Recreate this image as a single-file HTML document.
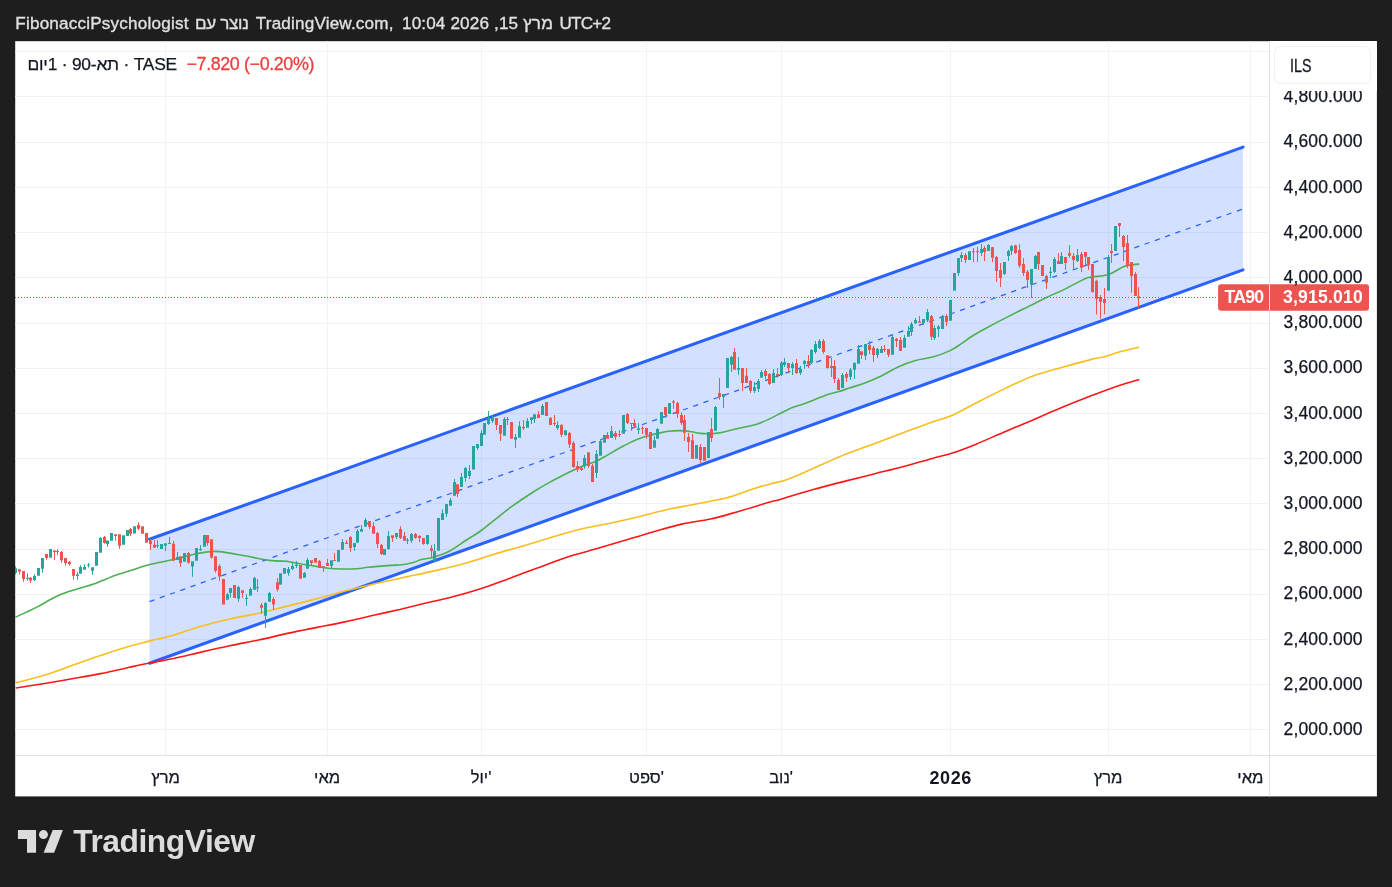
<!DOCTYPE html>
<html lang="he"><head><meta charset="utf-8"><title>TA90 chart</title>
<style>
html,body{margin:0;padding:0;background:#1e1e1e;}
body{width:1392px;height:887px;position:relative;overflow:hidden;font-family:"Liberation Sans","DejaVu Sans",sans-serif;}
#chart{position:absolute;left:0;top:0;}
.t{position:absolute;white-space:nowrap;line-height:1;}
#title{left:15.3px;top:14.9px;font-size:17.1px;color:#e0e0e0;direction:ltr;-webkit-text-stroke:0.35px #e0e0e0;}
#title span{position:absolute;top:0;white-space:pre;}
#legend{left:27.5px;top:55.6px;font-size:17.4px;color:#131722;direction:ltr;letter-spacing:-0.22px;}
#legend .chg{color:#ee3e3c;margin-left:9.6px;font-size:17.9px;letter-spacing:-0.39px;-webkit-text-stroke:0.3px #ee3e3c;}
#legend span:first-child{-webkit-text-stroke:0.25px #131722;}
.p{position:absolute;left:1283.5px;font-size:17.5px;color:#131722;line-height:1;white-space:nowrap;letter-spacing:0.15px;-webkit-text-stroke:0.25px #131722;}
.m{position:absolute;top:769.5px;font-size:16.6px;color:#131722;line-height:1;white-space:nowrap;transform:translateX(-50%);-webkit-text-stroke:0.25px #131722;}
#ilscover{position:absolute;left:1270px;top:41px;width:107px;height:50px;background:#fff;}
#ilsbox{position:absolute;left:4.4px;top:4.8px;width:94.6px;height:36.6px;border:1.8px solid #eff0f1;border-radius:6.5px;box-sizing:content-box;}
#ils{left:1289.6px;top:58.2px;font-size:17.9px;color:#131722;-webkit-text-stroke:0.3px #131722;transform:scaleX(0.8);transform-origin:0 50%;}
#ta{left:1224.4px;top:289.1px;font-size:17.7px;color:#fff;font-weight:bold;letter-spacing:-0.75px}
#last{left:1283px;top:289.3px;font-size:17.6px;color:#fff;font-weight:bold;letter-spacing:0.2px;}
#brand{left:73.2px;top:825.8px;font-size:31.8px;font-weight:bold;color:#dcdcdc;letter-spacing:-0.46px;}
</style></head><body>
<svg id="chart" width="1392" height="887" viewBox="0 0 1392 887">
<rect x="15.2" y="41.2" width="1361.7" height="755.2" fill="#fff"/>
<clipPath id="pane"><rect x="15" y="41" width="1254.5" height="714"/></clipPath>
<g clip-path="url(#pane)">
<path d="M15 51.5H1269.5M15 96.5H1269.5M15 142.5H1269.5M15 187.5H1269.5M15 232.5H1269.5M15 277.5H1269.5M15 323.5H1269.5M15 368.5H1269.5M15 413.5H1269.5M15 458.5H1269.5M15 503.5H1269.5M15 549.5H1269.5M15 594.5H1269.5M15 639.5H1269.5M15 684.5H1269.5M15 729.5H1269.5M165.5 41V755M327.5 41V755M481.5 41V755M646.5 41V755M781.5 41V755M950.5 41V755M1108.5 41V755M1250.5 41V755" stroke="#f1f3f3" stroke-width="1" fill="none"/>
<polygon points="149.5,539.3 1243.0,147.1 1243.0,269.9 149.5,663.3" fill="#2962ff" fill-opacity="0.2"/>
<path d="M149.5 601.6L1243.0 208.9" stroke="#2962ff" stroke-width="1.25" stroke-dasharray="5.2 5.7" fill="none"/>
<path d="M149.5 539.3L1243.0 147.1M149.5 663.3L1243.0 269.9" stroke="#2962ff" stroke-width="3.05" stroke-linecap="round" fill="none"/>
<path d="M15.8 688.0 C20.4 687.3 33.8 685.2 43.1 683.7 C52.4 682.2 62.2 680.5 71.8 678.8 C81.4 677.1 91.0 675.5 100.6 673.6 C110.2 671.7 121.2 669.1 129.3 667.3 C137.4 665.5 142.2 664.4 149.4 663.0 C156.6 661.6 163.8 660.5 172.4 658.7 C181.0 656.9 191.5 654.3 201.1 652.1 C210.7 649.9 220.3 647.7 229.9 645.7 C239.5 643.7 249.0 642.0 258.6 640.0 C268.2 638.0 277.8 635.5 287.4 633.4 C297.0 631.3 306.5 629.5 316.1 627.6 C325.7 625.7 335.2 624.0 344.8 621.9 C354.4 619.8 364.9 617.3 373.6 615.3 C382.3 613.3 388.9 611.9 397.2 610.0 C405.4 608.1 414.0 605.9 423.1 603.7 C432.2 601.6 442.2 599.6 451.8 597.1 C461.4 594.6 471.0 591.9 480.6 588.8 C490.2 585.7 499.7 581.9 509.3 578.4 C518.9 574.9 528.4 571.3 538.0 567.8 C547.6 564.3 557.2 560.3 566.8 557.2 C576.4 554.1 585.9 551.9 595.5 549.1 C605.1 546.3 614.7 543.4 624.3 540.5 C633.9 537.6 643.4 534.6 653.0 531.9 C662.6 529.2 672.1 526.2 681.7 524.1 C691.3 522.0 700.9 521.1 710.5 519.0 C720.1 516.9 729.6 513.9 739.2 511.2 C748.8 508.5 761.1 504.6 767.9 502.6 C774.7 500.6 772.5 501.6 780.0 499.4 C787.5 497.2 802.2 492.6 813.2 489.5 C824.2 486.4 835.9 483.5 846.2 480.9 C856.5 478.3 865.3 476.1 874.9 473.7 C884.5 471.3 894.1 469.1 903.7 466.5 C913.3 463.9 924.3 460.6 932.4 458.4 C940.5 456.1 945.3 455.3 952.5 453.0 C959.7 450.7 966.9 447.9 975.5 444.4 C984.1 440.9 994.7 436.1 1004.3 432.0 C1013.9 427.9 1023.4 424.0 1033.0 419.9 C1042.6 415.8 1052.1 411.6 1061.7 407.6 C1071.3 403.6 1080.9 399.8 1090.5 396.1 C1100.1 392.4 1111.1 388.3 1119.2 385.5 C1127.3 382.7 1136.0 380.4 1139.3 379.4" stroke="#f91717" stroke-width="1.6" fill="none" stroke-linejoin="round"/>
<path d="M15.8 682.8 C20.4 681.6 33.8 678.5 43.1 675.6 C52.4 672.7 62.2 669.0 71.8 665.6 C81.4 662.2 91.0 658.7 100.6 655.5 C110.2 652.3 121.2 648.7 129.3 646.3 C137.4 643.9 142.2 642.9 149.4 641.1 C156.6 639.3 163.8 637.9 172.4 635.4 C181.0 632.9 191.5 628.9 201.1 626.2 C210.7 623.5 220.3 621.1 229.9 619.0 C239.5 616.9 249.0 615.4 258.6 613.3 C268.2 611.1 277.8 608.5 287.4 606.1 C297.0 603.7 306.5 601.4 316.1 598.9 C325.7 596.4 335.2 593.6 344.8 591.1 C354.4 588.6 366.1 585.8 373.6 584.0 C381.1 582.2 384.1 581.8 390.0 580.5 C395.9 579.2 400.8 578.1 408.7 576.4 C416.6 574.7 427.9 572.4 437.5 570.1 C447.1 567.9 456.6 565.6 466.2 562.9 C475.8 560.2 485.3 556.9 494.9 554.0 C504.5 551.1 514.1 548.5 523.7 545.7 C533.3 542.9 542.8 539.9 552.4 537.1 C562.0 534.3 571.5 531.3 581.1 529.0 C590.7 526.7 600.3 525.3 609.9 523.3 C619.5 521.2 629.0 519.0 638.6 516.7 C648.2 514.4 657.8 511.6 667.4 509.5 C677.0 507.4 686.5 505.9 696.1 504.0 C705.7 502.1 715.2 500.8 724.8 498.3 C734.4 495.8 746.1 491.2 753.6 488.8 C761.1 486.4 764.1 485.6 770.0 484.0 C775.9 482.4 780.8 481.8 788.7 478.9 C796.6 476.0 807.9 470.6 817.5 466.5 C827.1 462.4 836.6 457.9 846.2 454.1 C855.8 450.3 865.3 447.1 874.9 443.5 C884.5 439.9 894.1 436.2 903.7 432.6 C913.3 429.0 924.3 424.9 932.4 422.0 C940.5 419.1 945.3 418.4 952.5 415.3 C959.7 412.2 966.9 407.7 975.5 403.3 C984.1 398.9 994.7 393.4 1004.3 388.9 C1013.9 384.3 1023.4 379.6 1033.0 376.0 C1042.6 372.4 1052.1 370.1 1061.7 367.4 C1071.3 364.7 1083.3 361.4 1090.5 359.6 C1097.7 357.8 1100.0 357.9 1104.8 356.7 C1109.6 355.4 1113.5 353.7 1119.2 352.1 C1125.0 350.5 1136.0 348.0 1139.3 347.2" stroke="#f8be1e" stroke-width="1.6" fill="none" stroke-linejoin="round"/>
<path d="M15.4 617.2 C17.3 616.3 23.1 613.7 26.9 611.9 C30.7 610.1 34.4 608.4 38.2 606.4 C42.0 604.4 45.8 602.0 49.5 600.0 C53.2 598.0 57.5 596.0 60.7 594.6 C63.9 593.2 65.4 592.7 68.6 591.6 C71.8 590.5 75.6 589.5 79.9 588.2 C84.2 586.9 90.3 585.2 94.6 583.7 C98.9 582.2 102.0 580.7 105.8 579.2 C109.5 577.7 112.4 576.3 117.1 574.7 C121.8 573.1 128.5 571.1 134.0 569.4 C139.5 567.7 143.4 566.1 150.0 564.5 C156.6 562.9 165.8 561.3 173.5 559.5 C181.2 557.7 189.3 555.1 196.4 553.7 C203.5 552.4 209.3 551.3 215.9 551.4 C222.5 551.5 230.0 553.2 236.2 554.2 C242.4 555.2 247.5 556.4 253.1 557.4 C258.7 558.4 264.5 559.8 270.0 560.4 C275.5 561.0 282.8 561.1 286.0 561.3 C289.2 561.5 285.9 561.2 289.3 561.8 C292.7 562.4 300.6 563.9 306.2 564.8 C311.8 565.7 318.4 566.7 323.1 567.4 C327.8 568.1 328.8 568.6 334.4 568.8 C340.0 569.0 351.3 569.0 356.9 568.8 C362.5 568.5 362.6 567.9 368.2 567.3 C373.8 566.7 385.1 565.8 390.7 565.4 C396.3 565.0 398.1 565.3 402.0 564.8 C405.9 564.3 410.8 563.2 414.0 562.3 C417.2 561.4 418.2 560.3 421.3 559.5 C424.4 558.7 428.0 558.7 432.5 557.4 C437.0 556.1 442.7 554.7 448.3 551.8 C453.9 548.9 461.1 543.4 466.4 540.0 C471.7 536.6 475.4 534.7 479.9 531.5 C484.4 528.3 488.1 524.9 493.4 520.8 C498.7 516.7 504.7 511.6 511.5 506.7 C518.3 501.8 527.6 495.6 534.0 491.5 C540.4 487.4 543.5 485.6 550.0 482.1 C556.5 478.6 567.0 473.3 572.7 470.5 C578.4 467.7 580.3 466.9 584.0 465.5 C587.7 464.1 591.2 463.5 595.0 461.8 C598.8 460.1 602.1 458.1 606.9 455.4 C611.7 452.7 619.1 448.3 623.8 445.8 C628.5 443.3 631.3 441.8 635.1 440.2 C638.9 438.6 642.6 437.3 646.4 436.2 C650.1 435.1 653.9 434.2 657.6 433.4 C661.4 432.6 665.1 431.7 668.9 431.2 C672.7 430.7 676.4 430.5 680.2 430.6 C684.0 430.7 688.2 431.2 691.5 431.7 C694.8 432.2 696.7 433.1 700.0 433.4 C703.3 433.7 707.7 433.9 711.5 433.7 C715.3 433.5 719.2 433.1 723.0 432.3 C726.8 431.6 730.7 430.1 734.5 429.2 C738.3 428.3 742.2 427.7 746.0 426.8 C749.8 425.9 753.7 425.3 757.5 424.0 C761.3 422.7 765.2 420.9 769.0 419.1 C772.8 417.3 777.0 415.0 780.5 413.3 C784.0 411.6 785.9 410.3 789.7 408.7 C793.5 407.1 799.2 405.4 803.4 403.9 C807.6 402.4 811.1 401.0 814.9 399.5 C818.7 398.0 822.6 396.2 826.4 394.9 C830.2 393.6 834.1 392.9 837.9 391.8 C841.7 390.7 844.9 389.5 849.4 388.0 C853.9 386.5 859.5 385.1 864.9 383.0 C870.3 380.9 876.2 378.4 881.8 375.7 C887.4 373.0 893.1 369.2 898.7 366.7 C904.3 364.2 910.0 362.1 915.6 360.5 C921.2 358.9 927.0 358.7 932.6 357.1 C938.2 355.5 944.8 353.1 949.5 350.9 C954.2 348.7 957.0 346.6 960.7 344.1 C964.5 341.7 967.5 339.0 972.0 336.2 C976.5 333.4 982.1 330.4 988.0 327.2 C993.9 324.0 1000.6 320.5 1007.6 316.9 C1014.6 313.3 1023.6 308.9 1030.2 305.6 C1036.8 302.3 1041.5 299.9 1047.1 297.2 C1052.7 294.5 1059.0 292.0 1064.0 289.6 C1069.0 287.2 1073.2 284.6 1077.3 282.6 C1081.4 280.6 1084.2 278.8 1088.5 277.6 C1092.8 276.5 1099.4 276.4 1103.2 275.7 C1107.0 275.0 1107.5 275.0 1111.1 273.4 C1114.7 271.8 1120.8 267.8 1124.6 266.3 C1128.3 264.8 1131.1 265.0 1133.6 264.6 C1136.0 264.2 1138.3 264.1 1139.3 264.0" stroke="#4caf50" stroke-width="1.6" fill="none" stroke-linejoin="round"/>
<path d="M15.0 566.5h1V574.4h-1zM14.0 568.2h3V572.7h-3zM27.0 573.3h1V580.6h-1zM26.0 577.8h3V578.8h-3zM34.0 574.2h1V580.9h-1zM33.0 576.1h3V580.0h-3zM38.0 568.0h1V575.8h-1zM37.0 568.0h3V575.8h-3zM42.0 558.1h1V572.7h-1zM41.0 558.1h3V568.8h-3zM50.0 549.0h1V557.8h-1zM49.0 549.0h3V557.8h-3zM77.0 572.2h1V579.8h-1zM76.0 574.4h3V576.1h-3zM80.0 565.2h1V573.8h-1zM79.0 567.1h3V573.8h-3zM84.0 564.3h1V569.7h-1zM83.0 567.1h3V569.7h-3zM88.0 563.1h1V567.6h-1zM87.0 564.5h3V565.6h-3zM92.0 567.3h1V574.7h-1zM91.0 567.3h3V570.8h-3zM96.0 552.1h1V565.7h-1zM95.0 552.1h3V565.7h-3zM100.0 537.0h1V552.8h-1zM99.0 538.0h3V552.8h-3zM107.0 540.4h1V546.8h-1zM106.0 540.4h3V544.0h-3zM111.0 533.0h1V540.8h-1zM110.0 533.0h3V540.8h-3zM123.0 535.2h1V544.8h-1zM122.0 535.2h3V544.8h-3zM127.0 530.1h1V535.9h-1zM126.0 530.1h3V535.9h-3zM134.0 526.2h1V533.6h-1zM133.0 526.2h3V533.6h-3zM157.0 540.1h1V548.0h-1zM156.0 545.2h3V546.2h-3zM161.0 544.1h1V548.9h-1zM160.0 544.1h3V548.9h-3zM165.0 543.3h1V550.9h-1zM164.0 543.3h3V545.8h-3zM169.0 537.0h1V544.0h-1zM168.0 543.0h3V544.0h-3zM177.0 552.0h1V559.9h-1zM176.0 557.1h3V559.9h-3zM184.0 553.1h1V561.8h-1zM183.0 553.1h3V561.8h-3zM192.0 561.2h1V576.8h-1zM191.0 561.2h3V566.6h-3zM196.0 548.0h1V560.7h-1zM195.0 548.0h3V560.7h-3zM200.0 545.0h1V551.1h-1zM199.0 548.9h3V550.3h-3zM204.0 535.1h1V546.7h-1zM203.0 535.1h3V546.7h-3zM227.0 593.1h1V599.7h-1zM226.0 594.3h3V599.7h-3zM230.0 588.1h1V597.6h-1zM229.0 588.1h3V592.9h-3zM238.0 585.8h1V601.8h-1zM237.0 586.9h3V598.8h-3zM246.0 594.3h1V605.8h-1zM245.0 598.0h3V599.0h-3zM250.0 587.2h1V595.7h-1zM249.0 588.9h3V595.7h-3zM254.0 576.8h1V589.8h-1zM253.0 577.9h3V589.8h-3zM257.0 579.0h1V591.8h-1zM256.0 587.3h3V588.3h-3zM265.0 601.9h1V628.1h-1zM264.0 603.1h3V615.7h-3zM269.0 591.8h1V601.8h-1zM268.0 592.9h3V601.8h-3zM280.0 573.3h1V584.8h-1zM279.0 573.3h3V584.8h-3zM284.0 568.0h1V573.8h-1zM283.0 568.0h3V573.8h-3zM288.0 567.1h1V575.8h-1zM287.0 569.0h3V573.1h-3zM292.0 562.3h1V569.9h-1zM291.0 566.0h3V569.0h-3zM296.0 561.1h1V567.9h-1zM295.0 564.6h3V566.0h-3zM304.0 571.9h1V577.8h-1zM303.0 573.1h3V577.8h-3zM307.0 558.1h1V568.8h-1zM306.0 560.0h3V568.8h-3zM331.0 560.3h1V567.9h-1zM330.0 560.3h3V566.0h-3zM338.0 549.9h1V561.8h-1zM337.0 549.9h3V561.8h-3zM342.0 539.1h1V549.8h-1zM341.0 541.9h3V549.8h-3zM354.0 543.1h1V550.7h-1zM353.0 543.1h3V547.0h-3zM357.0 529.1h1V542.8h-1zM356.0 531.0h3V542.8h-3zM361.0 525.1h1V531.8h-1zM360.0 529.1h3V531.8h-3zM365.0 518.0h1V526.8h-1zM364.0 520.0h3V526.8h-3zM384.0 549.0h1V554.9h-1zM383.0 549.0h3V554.9h-3zM388.0 531.0h1V549.8h-1zM387.0 536.1h3V549.0h-3zM396.0 533.0h1V538.9h-1zM395.0 533.0h3V536.9h-3zM407.0 538.0h1V544.0h-1zM406.0 539.7h3V540.8h-3zM411.0 533.0h1V542.8h-1zM410.0 534.0h3V540.8h-3zM427.0 535.1h1V544.8h-1zM426.0 535.1h3V543.9h-3zM434.0 544.1h1V561.7h-1zM433.0 550.9h3V560.8h-3zM438.0 518.0h1V550.7h-1zM437.0 518.0h3V550.7h-3zM442.0 509.2h1V519.9h-1zM441.0 513.3h3V519.9h-3zM446.0 504.1h1V516.9h-1zM445.0 504.1h3V513.8h-3zM450.0 498.0h1V505.8h-1zM449.0 500.2h3V505.8h-3zM454.0 479.1h1V495.7h-1zM453.0 481.9h3V495.7h-3zM461.0 473.1h1V486.9h-1zM460.0 477.1h3V486.9h-3zM465.0 466.9h1V481.8h-1zM464.0 468.1h3V477.9h-3zM469.0 464.9h1V479.0h-1zM468.0 471.1h3V475.9h-3zM473.0 446.1h1V469.6h-1zM472.0 446.1h3V469.6h-3zM477.0 444.0h1V449.9h-1zM476.0 444.0h3V448.0h-3zM481.0 430.2h1V446.0h-1zM480.0 433.0h3V446.0h-3zM484.0 423.0h1V434.8h-1zM483.0 423.0h3V434.8h-3zM488.0 411.1h1V424.9h-1zM487.0 418.9h3V424.0h-3zM492.0 415.3h1V423.0h-1zM491.0 417.9h3V420.9h-3zM504.0 417.2h1V435.8h-1zM503.0 418.9h3V435.8h-3zM515.0 434.1h1V448.0h-1zM514.0 436.9h3V439.8h-3zM519.0 421.2h1V437.8h-1zM518.0 426.2h3V437.8h-3zM527.0 418.1h1V427.7h-1zM526.0 420.9h3V427.7h-3zM531.0 417.2h1V424.0h-1zM530.0 417.2h3V420.0h-3zM534.0 414.2h1V423.0h-1zM533.0 414.2h3V418.9h-3zM542.0 404.0h1V415.0h-1zM541.0 405.9h3V415.0h-3zM557.0 421.2h1V429.9h-1zM556.0 425.1h3V428.0h-3zM565.0 430.2h1V435.8h-1zM564.0 430.2h3V435.0h-3zM584.0 455.1h1V468.8h-1zM583.0 458.1h3V466.6h-3zM596.0 450.1h1V477.9h-1zM595.0 454.0h3V472.9h-3zM600.0 439.0h1V455.7h-1zM599.0 441.0h3V455.7h-3zM604.0 435.1h1V442.8h-1zM603.0 435.1h3V442.8h-3zM611.0 426.1h1V437.9h-1zM610.0 431.1h3V437.9h-3zM623.0 415.0h1V433.7h-1zM622.0 415.0h3V433.7h-3zM631.0 423.0h1V430.8h-1zM630.0 423.0h3V424.0h-3zM638.0 423.0h1V434.0h-1zM637.0 428.3h3V430.0h-3zM654.0 436.0h1V447.8h-1zM653.0 440.2h3V447.8h-3zM657.0 428.0h1V438.8h-1zM656.0 428.9h3V438.8h-3zM661.0 412.0h1V423.8h-1zM660.0 412.0h3V423.8h-3zM669.0 403.0h1V413.9h-1zM668.0 403.0h3V413.9h-3zM696.0 445.0h1V458.8h-1zM695.0 445.0h3V458.8h-3zM708.0 431.9h1V457.9h-1zM707.0 431.9h3V457.9h-3zM715.0 406.1h1V430.8h-1zM714.0 406.9h3V430.8h-3zM723.0 394.1h1V407.9h-1zM722.0 394.1h3V397.0h-3zM727.0 358.0h1V387.9h-1zM726.0 358.0h3V387.9h-3zM731.0 356.1h1V371.9h-1zM730.0 357.0h3V364.8h-3zM738.0 357.0h1V374.9h-1zM737.0 367.9h3V369.8h-3zM754.0 382.0h1V393.1h-1zM753.0 387.1h3V391.0h-3zM758.0 379.0h1V391.9h-1zM757.0 380.9h3V389.0h-3zM761.0 369.9h1V377.8h-1zM760.0 371.9h3V377.8h-3zM773.0 369.0h1V382.9h-1zM772.0 373.0h3V382.9h-3zM781.0 360.9h1V376.0h-1zM780.0 362.8h3V374.9h-3zM784.0 358.0h1V367.0h-1zM783.0 361.9h3V365.1h-3zM792.0 361.9h1V374.9h-1zM791.0 364.0h3V367.9h-3zM800.0 366.0h1V374.9h-1zM799.0 369.0h3V373.0h-3zM804.0 360.0h1V368.8h-1zM803.0 361.1h3V364.0h-3zM811.0 349.0h1V364.0h-1zM810.0 349.9h3V363.1h-3zM815.0 341.1h1V353.8h-1zM814.0 343.9h3V351.9h-3zM819.0 338.9h1V349.0h-1zM818.0 341.1h3V348.0h-3zM842.0 373.0h1V387.9h-1zM841.0 374.9h3V387.9h-3zM850.0 368.1h1V379.9h-1zM849.0 369.8h3V376.8h-3zM854.0 362.2h1V379.1h-1zM853.0 363.1h3V369.8h-3zM858.0 344.9h1V363.8h-1zM857.0 349.0h3V363.8h-3zM865.0 344.1h1V359.9h-1zM864.0 344.1h3V355.7h-3zM877.0 348.1h1V357.9h-1zM876.0 349.0h3V355.1h-3zM881.0 346.0h1V352.9h-1zM880.0 349.0h3V352.9h-3zM892.0 335.1h1V354.8h-1zM891.0 337.0h3V354.8h-3zM904.0 335.1h1V347.8h-1zM903.0 337.9h3V347.8h-3zM908.0 326.1h1V336.8h-1zM907.0 331.1h3V336.8h-3zM911.0 321.9h1V336.0h-1zM910.0 324.0h3V331.9h-3zM915.0 318.0h1V324.0h-1zM914.0 319.9h3V323.3h-3zM923.0 319.0h1V324.9h-1zM922.0 319.0h3V323.0h-3zM927.0 308.9h1V321.9h-1zM926.0 312.0h3V320.4h-3zM934.0 325.2h1V339.9h-1zM933.0 328.0h3V337.9h-3zM938.0 324.9h1V337.0h-1zM937.0 326.6h3V328.9h-3zM942.0 315.0h1V328.9h-1zM941.0 315.9h3V328.9h-3zM950.0 299.9h1V320.7h-1zM949.0 299.9h3V320.7h-3zM954.0 273.1h1V290.7h-1zM953.0 273.1h3V290.7h-3zM958.0 258.0h1V276.0h-1zM957.0 258.0h3V272.9h-3zM961.0 252.1h1V262.0h-1zM960.0 254.9h3V258.0h-3zM969.0 251.2h1V259.9h-1zM968.0 251.2h3V259.9h-3zM981.0 243.9h1V256.0h-1zM980.0 248.9h3V253.0h-3zM988.0 243.9h1V250.9h-1zM987.0 245.1h3V250.9h-3zM1004.0 262.0h1V274.9h-1zM1003.0 262.0h3V274.0h-3zM1008.0 249.8h1V261.1h-1zM1007.0 250.9h3V256.0h-3zM1011.0 245.1h1V254.9h-1zM1010.0 246.1h3V250.9h-3zM1031.0 269.0h1V297.7h-1zM1030.0 269.0h3V284.8h-3zM1035.0 254.9h1V269.0h-1zM1034.0 256.0h3V269.0h-3zM1050.0 266.9h1V278.0h-1zM1049.0 271.8h3V272.9h-3zM1054.0 256.9h1V272.9h-1zM1053.0 259.0h3V272.0h-3zM1061.0 252.1h1V263.9h-1zM1060.0 256.0h3V263.9h-3zM1077.0 249.0h1V262.0h-1zM1076.0 255.0h3V261.0h-3zM1108.0 255.0h1V290.8h-1zM1107.0 256.9h3V290.8h-3zM1115.0 225.9h1V250.9h-1zM1114.0 225.9h3V250.9h-3z" fill="#26a69a"/>
<path d="M19.0 569.3h1V574.6h-1zM18.0 569.3h3V571.6h-3zM23.0 571.0h1V581.7h-1zM22.0 571.0h3V578.9h-3zM30.0 577.0h1V582.9h-1zM29.0 577.8h3V580.6h-3zM46.0 553.9h1V559.8h-1zM45.0 554.1h3V558.1h-3zM54.0 550.2h1V559.8h-1zM53.0 550.4h3V551.9h-3zM57.0 549.0h1V554.7h-1zM56.0 551.0h3V552.1h-3zM61.0 551.0h1V562.9h-1zM60.0 551.9h3V560.3h-3zM65.0 558.1h1V565.7h-1zM64.0 558.1h3V563.1h-3zM69.0 560.9h1V565.7h-1zM68.0 561.8h3V564.0h-3zM73.0 569.0h1V579.8h-1zM72.0 569.0h3V575.8h-3zM104.0 536.1h1V543.7h-1zM103.0 537.0h3V543.1h-3zM115.0 534.2h1V540.8h-1zM114.0 534.2h3V536.1h-3zM119.0 534.2h1V548.7h-1zM118.0 534.2h3V545.7h-3zM130.0 528.0h1V535.9h-1zM129.0 529.1h3V533.8h-3zM138.0 522.2h1V529.9h-1zM137.0 525.0h3V528.7h-3zM142.0 526.2h1V533.8h-1zM141.0 526.2h3V533.8h-3zM146.0 533.0h1V542.8h-1zM145.0 533.0h3V542.8h-3zM150.0 539.0h1V550.1h-1zM149.0 540.9h3V544.1h-3zM154.0 540.1h1V547.8h-1zM153.0 544.7h3V547.8h-3zM173.0 540.9h1V560.7h-1zM172.0 543.8h3V560.7h-3zM180.0 556.2h1V567.0h-1zM179.0 556.2h3V562.9h-3zM188.0 552.0h1V563.8h-1zM187.0 552.9h3V562.7h-3zM207.0 535.1h1V545.8h-1zM206.0 535.1h3V543.0h-3zM211.0 539.2h1V558.7h-1zM210.0 539.2h3V557.6h-3zM215.0 556.2h1V572.8h-1zM214.0 556.2h3V570.8h-3zM219.0 564.2h1V580.7h-1zM218.0 565.9h3V576.4h-3zM223.0 579.0h1V604.6h-1zM222.0 579.0h3V604.6h-3zM234.0 585.0h1V597.9h-1zM233.0 585.0h3V597.9h-3zM242.0 590.3h1V597.9h-1zM241.0 590.3h3V592.9h-3zM261.0 603.1h1V613.7h-1zM260.0 605.0h3V607.8h-3zM273.0 597.1h1V609.8h-1zM272.0 599.0h3V604.6h-3zM277.0 578.1h1V591.5h-1zM276.0 582.3h3V589.6h-3zM300.0 565.1h1V578.7h-1zM299.0 565.1h3V578.7h-3zM311.0 560.3h1V566.0h-1zM310.0 560.3h3V563.1h-3zM315.0 558.1h1V562.8h-1zM314.0 558.1h3V562.8h-3zM319.0 560.0h1V567.9h-1zM318.0 560.9h3V567.9h-3zM323.0 566.3h1V571.9h-1zM322.0 566.3h3V567.6h-3zM327.0 559.0h1V566.0h-1zM326.0 563.1h3V566.0h-3zM334.0 553.0h1V561.1h-1zM333.0 560.0h3V561.1h-3zM346.0 540.0h1V544.0h-1zM345.0 542.8h3V544.0h-3zM350.0 535.9h1V551.9h-1zM349.0 536.9h3V547.9h-3zM369.0 521.1h1V529.0h-1zM368.0 521.1h3V526.8h-3zM373.0 522.0h1V533.8h-1zM372.0 525.9h3V533.8h-3zM377.0 532.1h1V547.9h-1zM376.0 533.0h3V544.0h-3zM381.0 544.0h1V555.0h-1zM380.0 544.9h3V553.9h-3zM392.0 535.2h1V541.9h-1zM391.0 535.2h3V538.0h-3zM400.0 526.2h1V538.9h-1zM399.0 529.1h3V538.0h-3zM404.0 532.1h1V540.8h-1zM403.0 536.1h3V540.8h-3zM415.0 533.0h1V538.8h-1zM414.0 534.0h3V538.1h-3zM419.0 534.9h1V541.9h-1zM418.0 536.0h3V538.1h-3zM423.0 538.1h1V544.8h-1zM422.0 538.1h3V543.9h-3zM431.0 545.0h1V556.9h-1zM430.0 548.2h3V550.9h-3zM457.0 484.2h1V496.9h-1zM456.0 484.2h3V493.7h-3zM496.0 418.1h1V429.9h-1zM495.0 418.1h3V424.9h-3zM500.0 425.1h1V440.9h-1zM499.0 425.1h3V433.7h-3zM507.0 417.0h1V424.9h-1zM506.0 418.9h3V420.0h-3zM511.0 422.1h1V438.7h-1zM510.0 422.1h3V438.7h-3zM523.0 420.0h1V429.9h-1zM522.0 427.1h3V428.3h-3zM538.0 411.1h1V417.9h-1zM537.0 414.2h3V417.9h-3zM546.0 402.0h1V415.9h-1zM545.0 402.0h3V415.9h-3zM550.0 417.0h1V424.9h-1zM549.0 417.9h3V424.9h-3zM554.0 415.1h1V426.0h-1zM553.0 423.0h3V424.0h-3zM561.0 424.0h1V436.9h-1zM560.0 424.9h3V434.8h-3zM569.0 432.0h1V448.0h-1zM568.0 433.0h3V444.6h-3zM573.0 441.0h1V467.7h-1zM572.0 442.9h3V466.9h-3zM577.0 461.2h1V471.9h-1zM576.0 466.0h3V469.6h-3zM581.0 466.0h1V471.1h-1zM580.0 467.7h3V470.0h-3zM588.0 452.2h1V467.7h-1zM587.0 452.2h3V466.0h-3zM592.0 464.1h1V481.9h-1zM591.0 465.8h3V481.9h-3zM607.0 431.9h1V438.8h-1zM606.0 435.1h3V438.8h-3zM615.0 431.1h1V439.8h-1zM614.0 433.1h3V436.8h-3zM619.0 430.0h1V437.0h-1zM618.0 434.0h3V435.1h-3zM627.0 412.9h1V424.0h-1zM626.0 413.9h3V423.0h-3zM634.0 419.0h1V428.0h-1zM633.0 423.0h3V426.1h-3zM642.0 426.1h1V434.0h-1zM641.0 428.0h3V429.1h-3zM646.0 428.0h1V438.8h-1zM645.0 428.0h3V434.8h-3zM650.0 431.9h1V448.9h-1zM649.0 431.9h3V448.9h-3zM665.0 407.1h1V418.0h-1zM664.0 407.1h3V415.0h-3zM673.0 399.9h1V408.9h-1zM672.0 401.6h3V402.7h-3zM677.0 401.8h1V418.0h-1zM676.0 403.0h3V413.9h-3zM681.0 412.2h1V424.9h-1zM680.0 415.0h3V423.0h-3zM684.0 415.0h1V441.0h-1zM683.0 420.1h3V432.8h-3zM688.0 433.1h1V452.0h-1zM687.0 437.0h3V441.9h-3zM692.0 434.0h1V458.8h-1zM691.0 440.2h3V458.8h-3zM700.0 444.1h1V463.1h-1zM699.0 446.9h3V459.9h-3zM704.0 446.9h1V460.8h-1zM703.0 446.9h3V460.8h-3zM711.0 418.0h1V441.9h-1zM710.0 429.1h3V437.9h-3zM719.0 378.1h1V399.8h-1zM718.0 393.1h3V397.0h-3zM734.0 348.0h1V369.8h-1zM733.0 352.1h3V369.8h-3zM742.0 367.9h1V391.0h-1zM741.0 367.9h3V382.9h-3zM746.0 367.9h1V382.9h-1zM745.0 375.8h3V382.9h-3zM750.0 380.0h1V393.1h-1zM749.0 380.9h3V390.8h-3zM765.0 369.0h1V379.0h-1zM764.0 371.0h3V376.0h-3zM769.0 373.0h1V385.1h-1zM768.0 373.9h3V384.0h-3zM777.0 367.9h1V377.8h-1zM776.0 374.1h3V376.0h-3zM788.0 363.1h1V371.9h-1zM787.0 363.1h3V367.9h-3zM796.0 358.9h1V373.9h-1zM795.0 363.1h3V373.0h-3zM808.0 354.9h1V367.9h-1zM807.0 361.1h3V364.0h-3zM823.0 338.9h1V353.8h-1zM822.0 341.1h3V351.9h-3zM827.0 355.2h1V368.8h-1zM826.0 355.2h3V367.9h-3zM831.0 358.0h1V376.9h-1zM830.0 366.0h3V367.9h-3zM834.0 360.0h1V382.9h-1zM833.0 366.0h3V379.0h-3zM838.0 378.1h1V389.9h-1zM837.0 380.0h3V389.9h-3zM846.0 371.9h1V382.0h-1zM845.0 374.1h3V377.8h-3zM861.0 351.2h1V359.0h-1zM860.0 351.2h3V355.1h-3zM869.0 341.0h1V353.9h-1zM868.0 344.9h3V350.0h-3zM873.0 346.0h1V361.9h-1zM872.0 347.8h3V355.1h-3zM884.0 344.9h1V352.0h-1zM883.0 349.0h3V350.0h-3zM888.0 349.0h1V356.9h-1zM887.0 349.0h3V354.8h-3zM896.0 337.9h1V346.9h-1zM895.0 338.8h3V341.0h-3zM900.0 337.0h1V350.9h-1zM899.0 339.9h3V350.9h-3zM919.0 315.9h1V322.7h-1zM918.0 321.2h3V322.7h-3zM931.0 315.0h1V339.9h-1zM930.0 315.9h3V336.8h-3zM946.0 313.9h1V326.1h-1zM945.0 315.9h3V322.1h-3zM965.0 253.0h1V263.0h-1zM964.0 254.9h3V259.9h-3zM973.0 247.9h1V262.0h-1zM972.0 251.2h3V252.2h-3zM977.0 247.0h1V262.0h-1zM976.0 251.2h3V252.2h-3zM984.0 246.1h1V261.1h-1zM983.0 247.9h3V252.1h-3zM992.0 247.0h1V262.0h-1zM991.0 247.0h3V257.7h-3zM996.0 256.0h1V281.9h-1zM995.0 257.1h3V271.0h-3zM1000.0 263.0h1V287.0h-1zM999.0 270.1h3V278.0h-3zM1015.0 244.7h1V254.0h-1zM1014.0 245.3h3V253.0h-3zM1019.0 244.2h1V268.1h-1zM1018.0 250.0h3V265.8h-3zM1023.0 258.0h1V276.0h-1zM1022.0 263.9h3V272.9h-3zM1027.0 270.1h1V287.9h-1zM1026.0 271.8h3V280.0h-3zM1038.0 252.1h1V270.1h-1zM1037.0 252.1h3V263.9h-3zM1042.0 265.0h1V276.0h-1zM1041.0 265.0h3V276.0h-3zM1046.0 274.9h1V288.9h-1zM1045.0 276.0h3V282.8h-3zM1058.0 253.0h1V263.9h-1zM1057.0 261.1h3V263.9h-3zM1065.0 257.1h1V269.9h-1zM1064.0 257.1h3V262.9h-3zM1069.0 244.9h1V257.8h-1zM1068.0 253.0h3V255.8h-3zM1073.0 253.0h1V268.9h-1zM1072.0 256.1h3V259.9h-3zM1081.0 252.0h1V271.9h-1zM1080.0 253.9h3V267.8h-3zM1085.0 252.0h1V264.9h-1zM1084.0 252.0h3V256.7h-3zM1088.0 256.9h1V269.9h-1zM1087.0 256.9h3V264.9h-3zM1092.0 264.0h1V292.8h-1zM1091.0 264.0h3V292.0h-3zM1096.0 279.8h1V314.5h-1zM1095.0 280.7h3V299.0h-3zM1100.0 295.0h1V318.7h-1zM1099.0 297.0h3V301.8h-3zM1104.0 288.1h1V314.5h-1zM1103.0 299.0h3V302.9h-3zM1111.0 244.0h1V262.9h-1zM1110.0 251.1h3V253.0h-3zM1119.0 223.1h1V237.0h-1zM1118.0 223.1h3V225.9h-3zM1123.0 235.1h1V261.0h-1zM1122.0 236.1h3V246.9h-3zM1127.0 235.1h1V268.0h-1zM1126.0 243.0h3V266.0h-3zM1131.0 262.0h1V292.8h-1zM1130.0 262.0h3V275.9h-3zM1135.0 271.9h1V295.9h-1zM1134.0 274.0h3V295.9h-3zM1138.0 287.2h1V308.0h-1zM1137.0 296.4h3V298.2h-3z" fill="#ef5350"/>
<path d="M15 297.5H1216" stroke="#f03e32" stroke-width="1" stroke-dasharray="1 2" fill="none"/>
</g>
<path d="M1269.5 41.2V796.4M15.2 755.5H1376.9" stroke="#dfe0e3" stroke-width="1" fill="none"/>
<path d="M1221.1 284.3H1366a3 3 0 0 1 3 3v20.4a3 3 0 0 1-3 3H1221.1a3 3 0 0 1-3-3V287.3a3 3 0 0 1 3-3z" fill="#ef5350"/>
<path d="M1269.5 284.3v26.4" stroke="#fff" stroke-opacity="0.75" stroke-width="1"/>
<g fill="#dcdcdc"><path d="M17.95 830.05H36.05V852.8H27V839H17.95z"/><circle cx="43.45" cy="834.6" r="4.5"/><path d="M52.75 830.05H62.9L54.15 852.8H43.6z"/></g>
</svg>
<div class="t" id="title"><span style="left:0;letter-spacing:0.2px">FibonacciPsychologist</span> <span style="left:179.7px;letter-spacing:-0.33px">נוצר עם</span> <span style="left:240.5px;letter-spacing:0.18px">TradingView.com,</span> <span style="left:386.7px;letter-spacing:0.15px">מרץ 15, 2026 10:04</span> <span style="left:544.1px;letter-spacing:-0.75px">UTC+2</span></div>
<div class="t" id="legend"><span>תא-90 · 1יום · TASE</span><span class="chg">−7.820 (−0.20%)</span></div>
<div class="p" style="top:88.2px">4,800.000</div>
<div class="p" style="top:133.4px">4,600.000</div>
<div class="p" style="top:178.6px">4,400.000</div>
<div class="p" style="top:223.8px">4,200.000</div>
<div class="p" style="top:269.0px">4,000.000</div>
<div class="p" style="top:314.2px">3,800.000</div>
<div class="p" style="top:359.4px">3,600.000</div>
<div class="p" style="top:404.6px">3,400.000</div>
<div class="p" style="top:449.8px">3,200.000</div>
<div class="p" style="top:495.0px">3,000.000</div>
<div class="p" style="top:540.1px">2,800.000</div>
<div class="p" style="top:585.3px">2,600.000</div>
<div class="p" style="top:630.5px">2,400.000</div>
<div class="p" style="top:675.7px">2,200.000</div>
<div class="p" style="top:720.9px">2,000.000</div>
<div class="m" style="left:165.6px">מרץ</div>
<div class="m" style="left:327.2px">מאי</div>
<div class="m" style="left:481.0px">יול'</div>
<div class="m" style="left:646.5px">ספט'</div>
<div class="m" style="left:781.1px">נוב'</div>
<div class="m" style="left:950.7px;font-weight:bold;font-size:18px;letter-spacing:0.6px;margin-top:-1px;-webkit-text-stroke:0">2026</div>
<div class="m" style="left:1108.1px">מרץ</div>
<div class="m" style="left:1250.4px">מאי</div>
<div id="ilscover"><div id="ilsbox"></div></div>
<div class="t" id="ils">ILS</div>
<div class="t" id="ta">TA90</div>
<div class="t" id="last">3,915.010</div>
<div class="t" id="brand">TradingView</div>
</body></html>
